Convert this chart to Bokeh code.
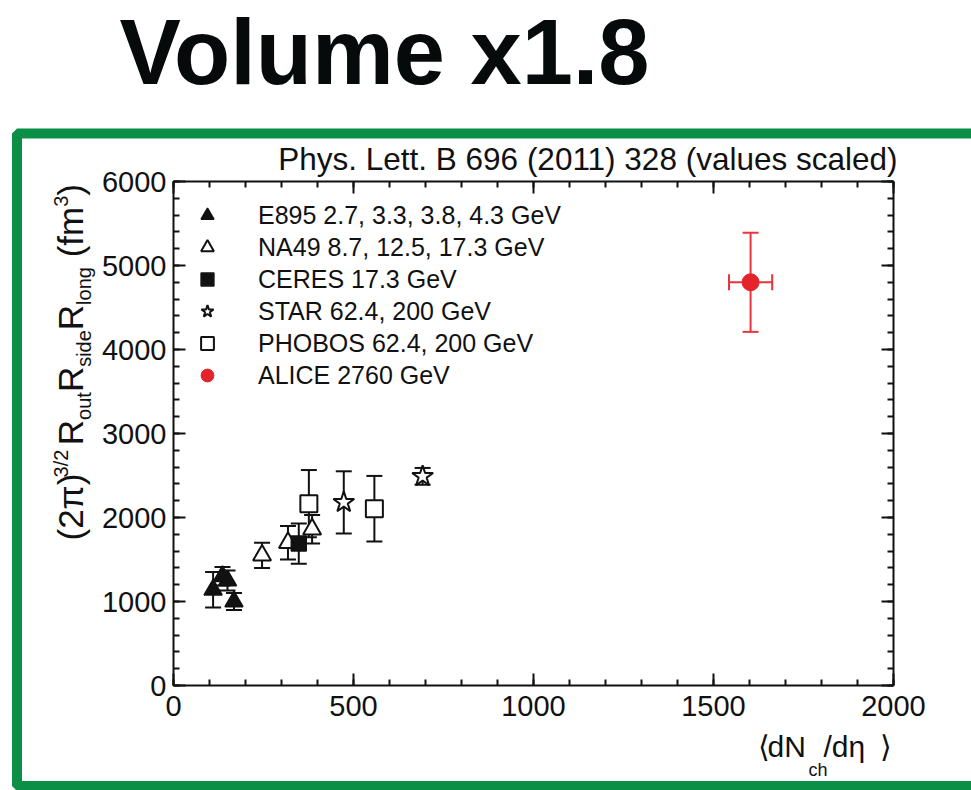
import math

from bokeh.embed import file_html
from bokeh.models import (BoxAnnotation, ColumnDataSource, CustomJSTickFormatter, Label,
                          Legend, LegendItem, LinearAxis, Range1d, SingleIntervalTicker,
                          TeeHead, Whisker)
from bokeh.plotting import figure
from bokeh.resources import INLINE

# ---------------------------------------------------------------- data
# <dN_ch/deta> and (2pi)^{3/2} Rout Rside Rlong in fm^3, with errors
e895_x = [110, 136, 150, 168]
e895_y = [1140, 1300, 1250, 1000]
e895_err = [210, 110, 120, 100]

na49_x = [246, 318, 385]
na49_y = [1550, 1700, 1860]
na49_err = [150, 200, 170]

ceres_x = [348]
ceres_y = [1690]
ceres_err = [240]

star_x = [473, 692]
star_y = [2180, 2490]
star_err = [370, 100]

phobos_x = [376, 558]
phobos_y = [2165, 2105]
phobos_err = [400, 390]

alice_x = [1603]
alice_y = [4800]
alice_yerr = [590]
alice_xerr = [60]

series_labels = [
    "E895 2.7, 3.3, 3.8, 4.3 GeV",
    "NA49 8.7, 12.5, 17.3 GeV",
    "CERES 17.3 GeV",
    "STAR 62.4, 200 GeV",
    "PHOBOS 62.4, 200 GeV",
    "ALICE 2760 GeV",
]

x_range = (0, 2000)
y_range = (0, 6000)
x_major, y_major = 500, 1000

W, H = 971, 790
FONT = "Liberation Sans"
INK = "#111111"
RED = "#e3242b"
RED_BAR = "#e8343b"
GREEN = "#0b8e46"

# ---------------------------------------------------------------- chart
p = figure(width=W, height=H,
           x_range=Range1d(*x_range), y_range=Range1d(*y_range),
           output_backend="svg", toolbar_location=None, title_location=None,
           min_border_left=173, min_border_right=78,
           min_border_top=181, min_border_bottom=105,
           background_fill_color="white", border_fill_color="white",
           outline_line_color=None)
p.grid.visible = False

top_axis = LinearAxis()
right_axis = LinearAxis()
p.add_layout(top_axis, "above")
p.add_layout(right_axis, "right")

for ax in p.xaxis:
    ax.ticker = SingleIntervalTicker(interval=x_major, num_minor_ticks=5)
for ax in p.yaxis:
    ax.ticker = SingleIntervalTicker(interval=y_major, num_minor_ticks=5)
for ax in p.axis:
    ax.axis_line_width = 2
    ax.axis_line_color = INK
    ax.major_tick_in = 12
    ax.major_tick_out = 0
    ax.minor_tick_in = 6
    ax.minor_tick_out = 0
    ax.major_tick_line_width = 2
    ax.minor_tick_line_width = 2
    ax.major_tick_line_color = INK
    ax.minor_tick_line_color = INK
    ax.major_label_text_font = FONT
    ax.major_label_text_font_size = "29px"
    ax.major_label_text_color = INK
# mirrored axes carry ticks only
for ax in (top_axis, right_axis):
    ax.formatter = CustomJSTickFormatter(code="return ''")
    ax.major_label_text_font_size = "1px"
    ax.major_label_standoff = 0
p.below[0].major_label_standoff = 10
p.left[0].major_label_standoff = 7


def error_bars(xs, ys, errs, color=INK, dim="height", head=16):
    if dim == "height":
        src = ColumnDataSource(dict(base=xs, lo=[y - e for y, e in zip(ys, errs)],
                                    hi=[y + e for y, e in zip(ys, errs)]))
    else:
        src = ColumnDataSource(dict(base=ys, lo=[x - e for x, e in zip(xs, errs)],
                                    hi=[x + e for x, e in zip(xs, errs)]))
    p.add_layout(Whisker(source=src, base="base", lower="lo", upper="hi", dimension=dim,
                         line_color=color, line_width=2,
                         lower_head=TeeHead(size=head, line_color=color, line_width=2),
                         upper_head=TeeHead(size=head, line_color=color, line_width=2)))


error_bars(e895_x, e895_y, e895_err)
error_bars(na49_x, na49_y, na49_err)
error_bars(ceres_x, ceres_y, ceres_err)
error_bars(star_x, star_y, star_err)
error_bars(phobos_x, phobos_y, phobos_err)
error_bars(alice_x, alice_y, alice_yerr, color=RED_BAR)
error_bars(alice_x, alice_y, alice_xerr, color=RED_BAR, dim="width")

r_e895 = p.scatter(e895_x, e895_y, marker="triangle", size=18,
                   fill_color=INK, line_color=INK, line_width=1.5)
r_na49 = p.scatter(na49_x, na49_y, marker="triangle", size=18,
                   fill_color="white", line_color=INK, line_width=2)
r_ceres = p.scatter(ceres_x, ceres_y, marker="square", size=15,
                    fill_color=INK, line_color=INK, line_width=1.5)
r_star = p.scatter(star_x, star_y, marker="star", size=22,
                   fill_color="white", line_color=INK, line_width=2)
r_phobos = p.scatter(phobos_x, phobos_y, marker="square", size=17,
                     fill_color="white", line_color=INK, line_width=2)
r_alice = p.scatter(alice_x, alice_y, marker="circle", size=17,
                    fill_color=RED, line_color=RED, line_width=1)

legend = Legend(
    items=[LegendItem(label=lab, renderers=[r]) for lab, r in zip(
        series_labels, [r_e895, r_na49, r_ceres, r_star, r_phobos, r_alice])],
    location="top_left", margin=0, padding=18, spacing=0,
    glyph_width=32, glyph_height=32, label_height=32, label_standoff=35,
    label_text_font=FONT, label_text_font_size="25px", label_text_color=INK,
    background_fill_alpha=0, border_line_alpha=0)
p.add_layout(legend)

# ---------------------------------------------------------------- text layer
# a transparent sheet laid over the chart whose units are page pixels (y down);
# it carries the titles, the composed axis titles and the green panel frame
t = figure(width=W, height=H, x_range=Range1d(0, W), y_range=Range1d(H, 0),
           output_backend="svg", toolbar_location=None, title_location=None,
           x_axis_location=None, y_axis_location=None,
           min_border=0, min_border_left=0, min_border_right=0,
           min_border_top=0, min_border_bottom=0,
           background_fill_alpha=0, border_fill_alpha=0, outline_line_color=None)
t.grid.visible = False
t.styles = {"position": "absolute", "left": "0px", "top": "0px"}

# labels are anchored on the middle of the line; shift so that the given
# coordinate is the alphabetic baseline
MID = 0.37


def put(x, y, text, size, vertical=False, **kw):
    if vertical:
        x = x - MID * size
    else:
        y = y - MID * size
    opts = dict(x=x, y=y, text=text, text_font=FONT, text_font_size=f"{size}px",
                text_color=INK, text_baseline="alphabetic", text_align="left")
    if vertical:
        opts["angle"] = math.pi / 2
    opts.update(kw)
    t.add_layout(Label(**opts))


# Helvetica-style advance widths (per em) used to lay out composed labels
ADV = {" ": .278, "(": .333, ")": .333, "/": .278, "2": .556, "3": .556, "π": .58,
       "R": .722, "o": .556, "u": .556, "t": .278, "s": .5, "i": .222, "d": .556,
       "e": .556, "l": .222, "n": .556, "g": .556, "f": .278, "m": .833, "N": .722,
       "c": .5, "h": .556, "η": .556}


def text_width(s, size):
    return sum(ADV.get(ch, .556) for ch in s) * size


put(384, 86, "Volume x1.8", 92, text_align="center",
    text_font_style="bold", text_color="#060a0a")

put(897, 170, "Phys. Lett. B 696 (2011) 328 (values scaled)", 31.5, text_align="right")

# vertical axis title, built piece by piece (reads bottom to top)
MAIN, SMALL = 35, 20
BASE_X = 83
ylabel_parts = [
    ("(2π)", MAIN, 0), ("3/2", SMALL, -15), (" ", 16, 0),
    ("R", MAIN, 0), ("out", SMALL, 8),
    ("R", MAIN, 0), ("side", SMALL, 8),
    ("R", MAIN, 0), ("long", SMALL, 8),
    (" ", MAIN, 0), ("(fm", MAIN, 0), ("3", SMALL, -15), (")", MAIN, 0),
]
cur_y = 540
for txt, size, shift in ylabel_parts:
    if txt.strip():
        put(BASE_X + shift, cur_y, txt, size, vertical=True)
    cur_y -= text_width(txt, size)

# horizontal axis title: <dN_ch/deta>
XL_BASE = 757
put(757, XL_BASE, "⟨", 30)
put(767, XL_BASE, "dN", 30)
put(808, XL_BASE + 19, "ch", 18)
put(823, XL_BASE, "/dη", 30)
put(879, XL_BASE, "⟩", 30)

# green panel frame (runs off the right edge of the page)
t.add_layout(BoxAnnotation(left=16.5, right=1000, top=133, bottom=785.5,
                           fill_alpha=0, line_color=GREEN, line_alpha=1,
                           line_width=10))

with open("out.html", "w") as fh:
    fh.write(file_html([p, t], INLINE))
